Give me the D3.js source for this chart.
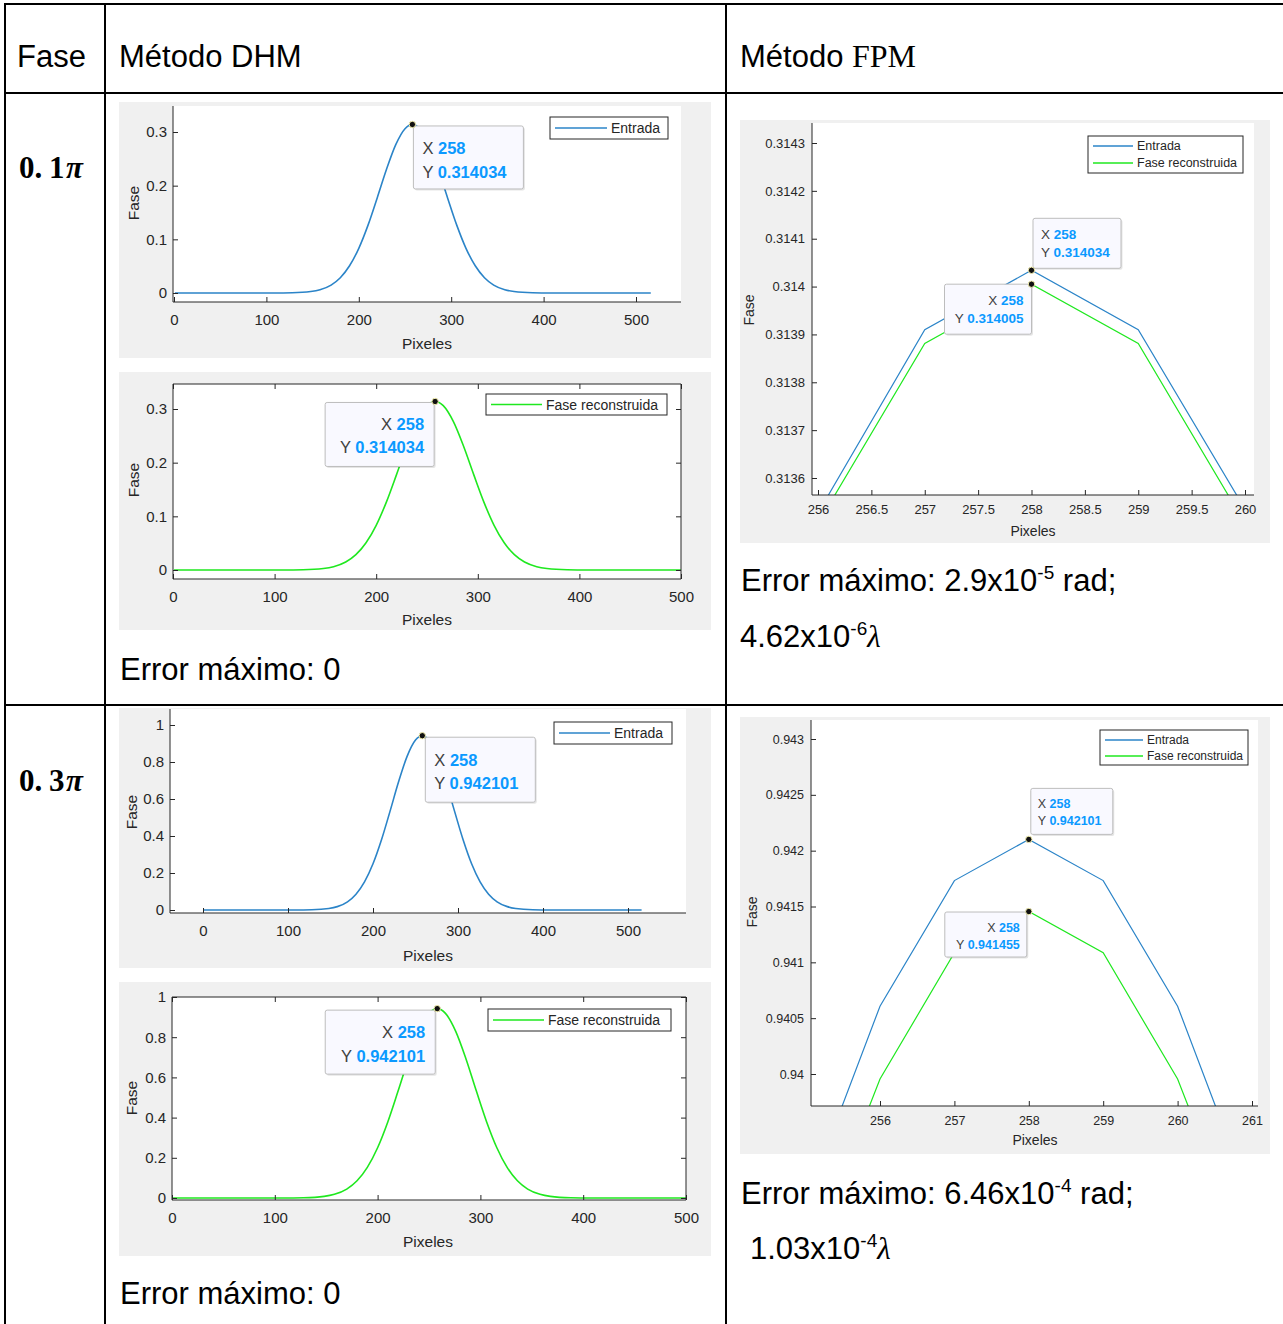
<!DOCTYPE html>
<html>
<head>
<meta charset="utf-8">
<script src="https://cdn.jsdelivr.net/npm/d3@7"></script>
<style>
  body { margin: 0; background: #fff; }
  text { font-family: Arial, "Liberation Sans", sans-serif; }
</style>
</head>
<body>
<div id="canvas"></div>
<script>
/* DATA */
const dhmX = [1, 58, 108, 128, 148, 158, 170, 180, 190, 200, 210, 220, 230, 240, 250, 258,
              266, 276, 286, 296, 306, 316, 326, 336, 346, 358, 368, 388, 408, 458, 516];
const dhmEntrada01 = [0, 0, 0.00004, 0.0004, 0.0027, 0.0061, 0.0148, 0.0285, 0.0507, 0.0833, 0.1265, 0.1777, 0.2305, 0.2764, 0.3062, 0.314034,
                      0.3062, 0.2764, 0.2305, 0.1777, 0.1265, 0.0833, 0.0507, 0.0285, 0.0148, 0.0061, 0.0027, 0.0004, 0.00004, 0, 0];
const dhmRecon01 = [0, 0, 0.00004, 0.0004, 0.0027, 0.0061, 0.0148, 0.0285, 0.0507, 0.0833, 0.1265, 0.1777, 0.2305, 0.2764, 0.3062, 0.314034,
                    0.3062, 0.2764, 0.2305, 0.1777, 0.1265, 0.0833, 0.0507, 0.0285, 0.0148, 0.0061, 0.0027, 0.0004, 0.00004, 0, 0];
const dhmEntrada03 = [0, 0, 0.0001, 0.0012, 0.008, 0.0182, 0.0444, 0.0855, 0.152, 0.2499, 0.3796, 0.533, 0.6915, 0.829, 0.9186, 0.942101,
                      0.9186, 0.829, 0.6915, 0.533, 0.3796, 0.2499, 0.152, 0.0855, 0.0444, 0.0182, 0.008, 0.0012, 0.0001, 0, 0];
const dhmRecon03 = [0, 0, 0.0001, 0.0012, 0.008, 0.0182, 0.0444, 0.0855, 0.152, 0.2499, 0.3796, 0.533, 0.6915, 0.829, 0.9186, 0.942101,
                    0.9186, 0.829, 0.6915, 0.533, 0.3796, 0.2499, 0.152, 0.0855, 0.0444, 0.0182, 0.008, 0.0012, 0.0001, 0, 0];

const fpmX = [255, 256, 257, 258, 259, 260, 261];
const fpmEntrada01 = [0.31292, 0.313527, 0.31391, 0.314034, 0.31391, 0.313535, 0.31292];
const fpmRecon01   = [0.31289, 0.313505, 0.313881, 0.314005, 0.313881, 0.313505, 0.31289];
const fpmEntrada03 = [0.93885, 0.940607, 0.941732, 0.942101, 0.941732, 0.940607, 0.93885];
const fpmRecon03   = [0.93825, 0.939955, 0.941086, 0.941455, 0.941086, 0.939955, 0.93825];

const dhmTicksX = [0, 100, 200, 300, 400, 500];
const ticksY01 = [0, 0.1, 0.2, 0.3];
const ticksY03 = [0, 0.2, 0.4, 0.6, 0.8, 1];
const fpmTicksX01 = [256, 256.5, 257, 257.5, 258, 258.5, 259, 259.5, 260];
const fpmTicksY01 = [0.3136, 0.3137, 0.3138, 0.3139, 0.314, 0.3141, 0.3142, 0.3143];
const fpmTicksX03 = [256, 257, 258, 259, 260, 261];
const fpmTicksY03 = [0.94, 0.9405, 0.941, 0.9415, 0.942, 0.9425, 0.943];

const tipX = 258;
const headers = ["Fase", "Método DHM", "Método "];
const rowLabels = ["0.1", "0.3"];


/* CREATE THE SVG CANVAS */
const width = 1283;
const height = 1324;

const svg = d3.select("#canvas")
    .append("svg")
    .attr("width", width)
    .attr("height", height)
    .style("display", "block");

svg.append("rect").attr("width", width).attr("height", height).attr("fill", "#fff");

const BLUE = "#2b84c8";
const GREEN = "#1fe81f";
const AXIS = "#262626";
const fmt = v => String(+v.toFixed(6));


/* ONE MATLAB-LIKE PANEL */
function drawPanel(p, idx) {
    const g = svg.append("g");

    g.append("rect")
        .attr("x", p.bg[0]).attr("y", p.bg[1])
        .attr("width", p.bg[2]).attr("height", p.bg[3])
        .attr("fill", "#f0f0f0");

    g.append("rect")
        .attr("x", p.l).attr("y", p.t)
        .attr("width", p.r - p.l).attr("height", p.b - p.t)
        .attr("fill", "#fff");

    const x = d3.scaleLinear().domain(p.xd).range(p.xr);
    const y = d3.scaleLinear().domain(p.yd).range(p.yr);

    g.append("clipPath").attr("id", "clip" + idx)
        .append("rect")
        .attr("x", p.l).attr("y", p.t)
        .attr("width", p.r - p.l).attr("height", p.b - p.t);

    const line = d3.line()
        .x(d => x(d[0]))
        .y(d => y(d[1]))
        .curve(p.curve);

    p.series.forEach(s => {
        g.append("path")
            .datum(s.x.map((v, i) => [v, s.y[i]]))
            .attr("clip-path", "url(#clip" + idx + ")")
            .attr("d", line)
            .attr("fill", "none")
            .attr("stroke", s.color)
            .attr("stroke-width", p.lw);
    });

    // axes, ticks pointing inside like MATLAB
    const styleAxis = (a) => {
        a.select(".domain").remove();
        a.selectAll("line").attr("stroke", AXIS);
        a.selectAll("text")
            .attr("fill", AXIS)
            .style("font-size", p.fs + "px")
            .style("font-family", "Arial, 'Liberation Sans', sans-serif");
    };

    const ax = g.append("g")
        .attr("transform", `translate(0,${p.b})`)
        .call(d3.axisBottom(x).tickValues(p.xTicks).tickSize(-5).tickPadding(p.xpad).tickFormat(fmt));
    styleAxis(ax);

    const ay = g.append("g")
        .attr("transform", `translate(${p.l},0)`)
        .call(d3.axisLeft(y).tickValues(p.yTicks).tickSize(-5).tickPadding(p.ypad).tickFormat(fmt));
    styleAxis(ay);

    g.append("line").attr("x1", p.l).attr("x2", p.r).attr("y1", p.b).attr("y2", p.b)
        .attr("stroke", AXIS).attr("stroke-width", 1);
    g.append("line").attr("x1", p.l).attr("x2", p.l).attr("y1", p.t).attr("y2", p.b)
        .attr("stroke", AXIS).attr("stroke-width", 1);

    if (p.box) {
        const at = g.append("g")
            .attr("transform", `translate(0,${p.t})`)
            .call(d3.axisTop(x).tickValues(p.xTicks).tickSize(-5).tickFormat(""));
        styleAxis(at);
        const ar = g.append("g")
            .attr("transform", `translate(${p.r},0)`)
            .call(d3.axisRight(y).tickValues(p.yTicks).tickSize(-5).tickFormat(""));
        styleAxis(ar);
        g.append("line").attr("x1", p.l).attr("x2", p.r).attr("y1", p.t).attr("y2", p.t)
            .attr("stroke", AXIS).attr("stroke-width", 1);
        g.append("line").attr("x1", p.r).attr("x2", p.r).attr("y1", p.t).attr("y2", p.b)
            .attr("stroke", AXIS).attr("stroke-width", 1);
    }

    // axis titles
    g.append("text")
        .attr("x", p.xlab[0]).attr("y", p.xlab[1])
        .attr("text-anchor", "middle")
        .attr("dominant-baseline", "central")
        .attr("fill", AXIS)
        .style("font-size", p.lfs + "px")
        .text("Pixeles");

    g.append("text")
        .attr("transform", `translate(${p.ylab[0]},${p.ylab[1]}) rotate(-90)`)
        .attr("text-anchor", "middle")
        .attr("dominant-baseline", "central")
        .attr("fill", AXIS)
        .style("font-size", p.lfs + "px")
        .text("Fase");

    // legend
    const lg = p.legend;
    g.append("rect")
        .attr("x", lg.x).attr("y", lg.y).attr("width", lg.w).attr("height", lg.h)
        .attr("fill", "#fff").attr("stroke", AXIS).attr("stroke-width", 1);
    lg.items.forEach((it, i) => {
        const cy = lg.y + lg.first + i * lg.step;
        g.append("line")
            .attr("x1", lg.x + 5).attr("x2", lg.x + 5 + lg.len)
            .attr("y1", cy).attr("y2", cy)
            .attr("stroke", it.color).attr("stroke-width", 1.3);
        g.append("text")
            .attr("x", lg.x + 9 + lg.len).attr("y", cy)
            .attr("dominant-baseline", "central")
            .attr("fill", AXIS)
            .style("font-size", lg.fs + "px")
            .text(it.label);
    });

    // data tips
    p.tips.forEach(t => {
        const px = x(tipX);
        const py = y(t.value);
        const bx = px + t.dx;
        const by = py + t.dy;
        g.append("rect")
            .attr("x", bx + 1.5).attr("y", by + 1.5).attr("width", t.w).attr("height", t.h)
            .attr("rx", 2).attr("fill", "rgba(0,0,0,0.10)");
        g.append("rect")
            .attr("x", bx).attr("y", by).attr("width", t.w).attr("height", t.h)
            .attr("rx", 2).attr("fill", "#f9f9ff").attr("stroke", "#bdbdbd").attr("stroke-width", 1);

        const lines = [["X ", String(tipX)], ["Y ", t.value.toFixed(6)]];
        lines.forEach((ln, i) => {
            const tx = g.append("text")
                .attr("x", t.align === "left" ? bx + t.pad : bx + t.w - t.pad)
                .attr("y", by + t.base + i * t.lh)
                .attr("text-anchor", t.align === "left" ? "start" : "end")
                .style("font-size", t.fs + "px");
            tx.append("tspan").attr("fill", "#404040").text(ln[0]);
            tx.append("tspan").attr("fill", "#0b99ff").attr("font-weight", "bold").text(ln[1]);
        });

        g.append("circle")
            .attr("cx", px).attr("cy", py).attr("r", 3.2)
            .attr("fill", "#111").attr("stroke", "#f4f0b0").attr("stroke-width", 1);
    });
}


/* PANEL SETTINGS */
const panels = [
    { // DHM 0.1 pi, entrada
        bg: [119, 102, 592, 256], l: 173, r: 681, t: 106, b: 302,
        xd: [0, 500], xr: [174, 636], yd: [0, 0.3], yr: [293, 132],
        xTicks: dhmTicksX, yTicks: ticksY01, box: false, fs: 15, lfs: 15.5, xpad: 12, ypad: 6,
        xlab: [427, 343], ylab: [133, 203], curve: d3.curveMonotoneX, lw: 1.6,
        series: [{ x: dhmX, y: dhmEntrada01, color: BLUE }],
        legend: { x: 550, y: 117, w: 118, h: 22, first: 11, step: 0, len: 52, fs: 14,
                  items: [{ label: "Entrada", color: BLUE }] },
        tips: [{ value: dhmEntrada01[15], dx: 1, dy: 1.5, w: 110, h: 63, align: "left", pad: 9, base: 28, lh: 24, fs: 16.5 }]
    },
    { // DHM 0.1 pi, reconstruida
        bg: [119, 372, 592, 258], l: 173, r: 681, t: 384, b: 579,
        xd: [0, 500], xr: [173, 681], yd: [0, 0.3], yr: [570, 409],
        xTicks: dhmTicksX, yTicks: ticksY01, box: true, fs: 15, lfs: 15.5, xpad: 12, ypad: 6,
        xlab: [427, 619], ylab: [133, 480], curve: d3.curveMonotoneX, lw: 1.6,
        series: [{ x: dhmX, y: dhmRecon01, color: GREEN }],
        legend: { x: 486, y: 394, w: 181, h: 21, first: 10.5, step: 0, len: 51, fs: 14,
                  items: [{ label: "Fase reconstruida", color: GREEN }] },
        tips: [{ value: dhmRecon01[15], dx: -110, dy: 1, w: 109, h: 64, align: "right", pad: 10, base: 28, lh: 23, fs: 16.5 }]
    },
    { // FPM 0.1 pi
        bg: [740, 120, 530, 423], l: 812, r: 1254, t: 123, b: 495,
        xd: [256, 260], xr: [818, 1245], yd: [0.3136, 0.3143], yr: [478, 143],
        xTicks: fpmTicksX01, yTicks: fpmTicksY01, box: false, fs: 13, lfs: 14, xpad: 10, ypad: 7,
        xlab: [1033, 531], ylab: [749, 310], curve: d3.curveLinear, lw: 1.2,
        series: [{ x: fpmX, y: fpmEntrada01, color: BLUE }, { x: fpmX, y: fpmRecon01, color: GREEN }],
        legend: { x: 1088, y: 136, w: 155, h: 37, first: 10, step: 17, len: 40, fs: 12.5,
                  items: [{ label: "Entrada", color: BLUE }, { label: "Fase reconstruida", color: GREEN }] },
        tips: [
            { value: fpmEntrada01[3], dx: 1.5, dy: -52, w: 88, h: 50, align: "left", pad: 8, base: 21, lh: 18, fs: 13.5 },
            { value: fpmRecon01[3], dx: -87, dy: 0, w: 87, h: 50, align: "right", pad: 8, base: 21, lh: 18, fs: 13.5 }
        ]
    },
    { // DHM 0.3 pi, entrada
        bg: [119, 708, 592, 260], l: 170, r: 686, t: 709, b: 913,
        xd: [0, 500], xr: [203, 628], yd: [0, 1], yr: [910, 725],
        xTicks: dhmTicksX, yTicks: ticksY03, box: false, fs: 15, lfs: 15.5, xpad: 12, ypad: 6,
        xlab: [428, 955], ylab: [131, 812], curve: d3.curveMonotoneX, lw: 1.6,
        series: [{ x: dhmX, y: dhmEntrada03, color: BLUE }],
        legend: { x: 554, y: 722, w: 118, h: 22, first: 11, step: 0, len: 51, fs: 14,
                  items: [{ label: "Entrada", color: BLUE }] },
        tips: [{ value: dhmEntrada03[15], dx: 3, dy: 1.5, w: 110, h: 65, align: "left", pad: 9, base: 29, lh: 23, fs: 16.5 }]
    },
    { // DHM 0.3 pi, reconstruida
        bg: [119, 982, 592, 274], l: 172, r: 686, t: 997, b: 1200,
        xd: [0, 500], xr: [172, 686], yd: [0, 1], yr: [1198, 997],
        xTicks: dhmTicksX, yTicks: ticksY03, box: true, fs: 15, lfs: 15.5, xpad: 12, ypad: 6,
        xlab: [428, 1241], ylab: [131, 1098], curve: d3.curveMonotoneX, lw: 1.6,
        series: [{ x: dhmX, y: dhmRecon03, color: GREEN }],
        legend: { x: 488, y: 1009, w: 183, h: 22, first: 11, step: 0, len: 51, fs: 14,
                  items: [{ label: "Fase reconstruida", color: GREEN }] },
        tips: [{ value: dhmRecon03[15], dx: -112, dy: 1.5, w: 110, h: 64, align: "right", pad: 10, base: 28, lh: 24, fs: 16.5 }]
    },
    { // FPM 0.3 pi
        bg: [740, 717, 530, 437], l: 811, r: 1258, t: 720, b: 1106,
        xd: [256, 261], xr: [880, 1252], yd: [0.94, 0.943], yr: [1074, 739],
        xTicks: fpmTicksX03, yTicks: fpmTicksY03, box: false, fs: 12.5, lfs: 14, xpad: 10, ypad: 7,
        xlab: [1035, 1140], ylab: [752, 912], curve: d3.curveLinear, lw: 1.2,
        series: [{ x: fpmX, y: fpmEntrada03, color: BLUE }, { x: fpmX, y: fpmRecon03, color: GREEN }],
        legend: { x: 1100, y: 730, w: 148, h: 35, first: 10, step: 16, len: 38, fs: 12,
                  items: [{ label: "Entrada", color: BLUE }, { label: "Fase reconstruida", color: GREEN }] },
        tips: [
            { value: fpmEntrada03[3], dx: 2, dy: -51, w: 82, h: 46, align: "left", pad: 7, base: 20, lh: 17, fs: 12.5 },
            { value: fpmRecon03[3], dx: -84, dy: 0.5, w: 82, h: 45, align: "right", pad: 7, base: 20, lh: 17, fs: 12.5 }
        ]
    }
];

panels.forEach((p, i) => drawPanel(p, i));


/* TABLE TEXT */
const bodyFont = 31;

svg.append("text").attr("x", 17).attr("y", 67).style("font-size", bodyFont + "px").text(headers[0]);
svg.append("text").attr("x", 119).attr("y", 67).style("font-size", bodyFont + "px").text(headers[1]);
const fpmHead = svg.append("text").attr("x", 740).attr("y", 67).style("font-size", bodyFont + "px");
fpmHead.append("tspan").text(headers[2]);
fpmHead.append("tspan").style("font-family", "'Liberation Serif', 'Times New Roman', serif").style("font-size", "32px").text("FPM");

[178, 791].forEach((base, i) => {
    const t = svg.append("text").attr("y", base)
        .style("font-family", "'Liberation Serif', serif")
        .style("font-weight", "bold")
        .style("font-size", "31px");
    t.append("tspan").attr("x", 19).text(rowLabels[i].slice(0, 2));
    t.append("tspan").attr("x", 49).text(rowLabels[i].slice(2));
    t.append("tspan").attr("x", 66).style("font-style", "italic").text("π");
});

svg.append("text").attr("x", 120).attr("y", 680).style("font-size", bodyFont + "px").text("Error máximo: 0");
svg.append("text").attr("x", 120).attr("y", 1304).style("font-size", bodyFont + "px").text("Error máximo: 0");

function errorLines(x1, y1, mant1, exp1, x2, y2, mant2, exp2) {
    const a = svg.append("text").attr("x", x1).attr("y", y1).style("font-size", bodyFont + "px");
    a.append("tspan").text("Error máximo: " + mant1 + "x10");
    a.append("tspan").attr("dy", -12).style("font-size", "19px").text(exp1);
    a.append("tspan").attr("dy", 12).text(" rad;");

    const b = svg.append("text").attr("x", x2).attr("y", y2).style("font-size", bodyFont + "px");
    b.append("tspan").text(mant2 + "x10");
    b.append("tspan").attr("dy", -12).style("font-size", "19px").text(exp2);
    b.append("tspan").attr("dy", 12)
        .style("font-family", "'Liberation Serif', serif").style("font-style", "italic")
        .text("λ");
}
errorLines(741, 591, "2.9", "-5", 740, 647, "4.62", "-6");
errorLines(741, 1204, "6.46", "-4", 750, 1259, "1.03", "-4");


/* TABLE LINES */
const hLines = [4, 93, 705];
const vLines = [5, 105, 726];
hLines.forEach(yy => {
    svg.append("line").attr("x1", 4).attr("x2", width).attr("y1", yy).attr("y2", yy)
        .attr("stroke", "#000").attr("stroke-width", 2);
});
vLines.forEach(xx => {
    svg.append("line").attr("x1", xx).attr("x2", xx).attr("y1", 3).attr("y2", height)
        .attr("stroke", "#000").attr("stroke-width", 2);
});
</script>
</body>
</html>
